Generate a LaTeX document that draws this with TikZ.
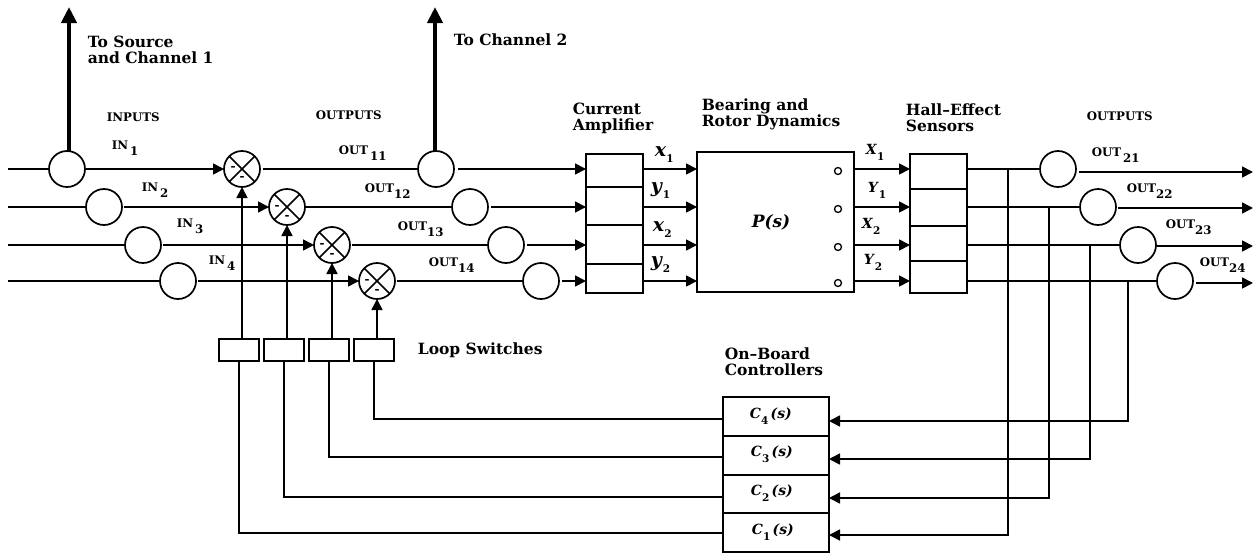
\documentclass[tikz,border=0pt]{standalone}
\usepackage{amsmath,amssymb}
\usepackage{fontspec}
\setmainfont{DejaVu Serif}
\usetikzlibrary{arrows.meta}
\newcommand{\subt}[1]{\raisebox{-6pt}{#1}}
\newcommand{\subm}[1]{\raisebox{-6pt}{\fontsize{10.5}{11}\selectfont\bfseries #1}}
\newcommand{\bi}[1]{\textbf{\textit{#1}}}

\begin{document}
\begin{tikzpicture}[x=1pt, y=-1pt, >={Triangle[length=11pt,width=11pt]}, line width=1.7pt,
  wire/.style={line width=1.7pt},
  fat/.style={line width=4pt, -{Triangle[length=16pt,width=15pt]}},
  tap/.style={circle, draw, minimum size=36pt, inner sep=0pt, outer sep=0pt},
  block/.style={rectangle, draw, inner sep=0pt, outer sep=0pt},
  switchbox/.style={block, minimum width=40pt, minimum height=22pt},
  pickoff/.style={circle, draw, minimum size=7pt, inner sep=0pt, line width=1.3pt},
  head/.style={align=left, anchor=north west, inner sep=0pt, font=\fontsize{15.5}{16}\selectfont\bfseries},
  tag/.style={anchor=west, inner sep=0pt, font=\fontsize{11.8}{12}\selectfont\bfseries},
  signal/.style={anchor=west, inner sep=0pt, font=\fontsize{14}{15}\selectfont},
  minus/.style={inner sep=0pt, font=\fontsize{12}{13}\selectfont\bfseries}]
\useasboundingbox (0,0) rectangle (1253,554);
% entrees
\coordinate (in1) at (8,169);
\coordinate (in2) at (8,207);
\coordinate (in3) at (8,245);
\coordinate (in4) at (8,281);
\node[tap] (a1) at (67,169) {};
\node[tap] (a2) at (104,207) {};
\node[tap] (a3) at (143,245) {};
\node[tap] (a4) at (178,281) {};
% sommateurs
\node[tap] (s1) at (242,169) {};
\node[tap] (s2) at (287,207) {};
\node[tap] (s3) at (332,245) {};
\node[tap] (s4) at (377,281) {};
\draw (s1.135) -- (s1.-45); \draw (s1.45) -- (s1.-135);
\draw (s2.135) -- (s2.-45); \draw (s2.45) -- (s2.-135);
\draw (s3.135) -- (s3.-45); \draw (s3.45) -- (s3.-135);
\draw (s4.135) -- (s4.-45); \draw (s4.45) -- (s4.-135);
\node[minus] (m1l) at (233,168) {-}; \node[minus] (m1b) at (242,178) {-};
\node[minus] (m2l) at (277,207) {-}; \node[minus] (m2b) at (287,217) {-};
\node[minus] (m3l) at (322,245) {-}; \node[minus] (m3b) at (332,255) {-};
\node[minus] (m4l) at (367,281) {-}; \node[minus] (m4b) at (377,291) {-};
% sorties vers l'amplificateur
\node[tap] (b1) at (436,169) {};
\node[tap] (b2) at (470,207) {};
\node[tap] (b3) at (506,245) {};
\node[tap] (b4) at (541,281) {};
% amplificateur
\node[block, minimum width=57pt, minimum height=139pt] (amp) at (614.5,223.5) {};
\draw (586,187) -- (643,187);
\draw (586,225) -- (643,225);
\draw (586,264) -- (643,264);
% rotor
\node[block, minimum width=157pt, minimum height=140pt] (plant) at (775.5,222) {};
\node[pickoff] (p1) at (838,171) {};
\node[pickoff] (p2) at (838,209) {};
\node[pickoff] (p3) at (838,247) {};
\node[pickoff] (p4) at (838,283) {};
\node[inner sep=0pt, font=\fontsize{17}{17}\selectfont] (ps) at (771,222) {\bi{P(s)}};
% capteurs
\node[block, minimum width=57pt, minimum height=139pt] (hall) at (938.5,223.5) {};
\draw (910,189) -- (967,189);
\draw (910,226) -- (967,226);
\draw (910,261) -- (967,261);
% sorties
\node[tap] (c1) at (1058,169) {};
\node[tap] (c2) at (1098,207) {};
\node[tap] (c3) at (1138,245) {};
\node[tap] (c4) at (1175,281) {};
\coordinate (e1) at (1253,172);
\coordinate (e2) at (1253,208);
\coordinate (e3) at (1253,246);
\coordinate (e4) at (1253,283);
% interrupteurs
\node[switchbox] (sw1) at (239,350) {};
\node[switchbox] (sw2) at (284,350) {};
\node[switchbox] (sw3) at (329,350) {};
\node[switchbox] (sw4) at (374,350) {};
% correcteurs
\node[block, minimum width=106pt, minimum height=155pt] (ctrl) at (776,474.5) {};
\draw (723,436) -- (829,436);
\draw (723,475) -- (829,475);
\draw (723,513) -- (829,513);
\node[signal] (t4) at (749,416) {\bi{C}\subm{4}\,\bi{(s)}};
\node[signal] (t3) at (750,454) {\bi{C}\subm{3}\,\bi{(s)}};
\node[signal] (t2) at (750,493) {\bi{C}\subm{2}\,\bi{(s)}};
\node[signal] (t1) at (751,532) {\bi{C}\subm{1}\,\bi{(s)}};
\coordinate (g4) at (723,419);
\coordinate (g3) at (723,457);
\coordinate (g2) at (723,497);
\coordinate (g1) at (723,533);
\coordinate (f4) at (829,421);
\coordinate (f3) at (829,459);
\coordinate (f2) at (829,498);
\coordinate (f1) at (829,535);
% fils de gauche
\draw[wire] (in1) -- (a1);
\draw[wire] (in2) -- (a2);
\draw[wire] (in3) -- (a3);
\draw[wire] (in4) -- (a4);
\draw[wire,->,shorten <=1pt] (a1) -- (s1);
\draw[wire,->,shorten <=2pt] (a2) -- (s2);
\draw[wire,->,shorten <=2pt] (a3) -- (s3);
\draw[wire,->,shorten <=2pt] (a4) -- (s4);
\draw[wire,shorten <=3pt] (s1) -- (b1);
\draw[wire,shorten <=1pt] (s2) -- (b2);
\draw[wire,shorten <=2pt] (s3) -- (b3);
\draw[wire,shorten <=2pt] (s4) -- (b4);
\draw[wire,->,shorten <=4pt] (b1) -- (b1 -| amp.west);
\draw[wire,->,shorten <=3pt] (b2) -- (b2 -| amp.west);
\draw[wire,->,shorten <=3pt] (b3) -- (b3 -| amp.west);
\draw[wire,->,shorten <=3pt] (b4) -- (b4 -| amp.west);
\draw[wire,->] (amp.east |- b1) -- (plant.west |- b1);
\draw[wire,->] (amp.east |- b2) -- (plant.west |- b2);
\draw[wire,->] (amp.east |- b3) -- (plant.west |- b3);
\draw[wire,->] (amp.east |- b4) -- (plant.west |- b4);
\draw[wire,->] (plant.east |- c1) -- (hall.west |- c1);
\draw[wire,->] (plant.east |- c2) -- (hall.west |- c2);
\draw[wire,->] (plant.east |- c3) -- (hall.west |- c3);
\draw[wire,->] (plant.east |- c4) -- (hall.west |- c4);
\draw[wire] (hall.east |- c1) -- (c1);
\draw[wire] (hall.east |- c2) -- (c2);
\draw[wire] (hall.east |- c3) -- (c3);
\draw[wire] (hall.east |- c4) -- (c4);
\draw[wire,->,shorten <=3pt] (c1.east |- e1) -- (e1);
\draw[wire,->,shorten <=2pt] (c2.east |- e2) -- (e2);
\draw[wire,->] (c3.east |- e3) -- (e3);
\draw[wire,->,shorten <=3pt] (c4.east |- e4) -- (e4);
% fils epais
\coordinate (up1) at (69,7);
\coordinate (up2) at (435,7);
\draw[fat] (a1.north -| up1) -- (up1);
\draw[fat] (b1.north -| up2) -- (up2);
% bouclage
\draw[wire,->] (s1.south |- sw1.north) -- (s1.south);
\draw[wire,->] (s2.south |- sw2.north) -- (s2.south);
\draw[wire,->] (s3.south |- sw3.north) -- (s3.south);
\draw[wire,->] (s4.south |- sw4.north) -- (s4.south);
\draw[wire] (sw1.south) |- (g1);
\draw[wire] (sw2.south) |- (g2);
\draw[wire] (sw3.south) |- (g3);
\draw[wire] (sw4.south) |- (g4);
\coordinate (j1) at (1008,169);
\coordinate (j2) at (1049,207);
\coordinate (j3) at (1090,245);
\coordinate (j4) at (1128,281);
\draw[wire,->] (j1) |- (f1);
\draw[wire,->] (j2) |- (f2);
\draw[wire,->] (j3) |- (f3);
\draw[wire,->] (j4) |- (f4);
% titres
\node[head] (tsrc) at (87,35) {To Source\\and Channel 1};
\node[head] (tch) at (453,33) {To Channel 2};
\node[head] (tamp) at (572,102) {Current\\Amplifier};
\node[head] (tplant) at (701,98) {Bearing and\\Rotor Dynamics};
\node[head] (thall) at (905,103) {Hall\textendash Effect\\Sensors};
\node[head] (tsw) at (417,342) {Loop Switches};
\node[head] (tctrl) at (724,347) {On\textendash Board\\Controllers};
\node[tag] (tin) at (106,117) {INPUTS};
\node[tag] (tout) at (315,115) {OUTPUTS};
\node[tag] (tout2) at (1086,116) {OUTPUTS};
% etiquettes
\node[tag] (l1) at (111,148) {IN\,\subt{1}};
\node[tag] (l2) at (141,190) {IN\,\subt{2}};
\node[tag] (l3) at (176,226) {IN\,\subt{3}};
\node[tag] (l4) at (208,263) {IN\,\subt{4}};
\node[tag] (o11) at (338,153) {OUT\,\subt{11}};
\node[tag] (o12) at (364,191) {OUT\subt{12}};
\node[tag] (o13) at (397,229) {OUT\subt{13}};
\node[tag] (o14) at (428,265) {OUT\subt{14}};
\node[tag] (o21) at (1091,155) {OUT\,\subt{21}};
\node[tag] (o22) at (1126,191) {OUT\subt{22}};
\node[tag] (o23) at (1165,227) {OUT\subt{23}};
\node[tag] (o24) at (1199,265) {OUT\subt{24}};
% signaux
\node[signal, font=\fontsize{19}{21}\selectfont] (x1) at (654,155) {\bi{x}\subm{1}};
\node[signal, font=\fontsize{19}{21}\selectfont] (y1) at (650,191) {\bi{y}\subm{1}};
\node[signal, font=\fontsize{19}{21}\selectfont] (x2) at (652,230) {\bi{x}\subm{2}};
\node[signal, font=\fontsize{19}{21}\selectfont] (y2) at (650,265) {\bi{y}\subm{2}};
\node[signal] (u1) at (865,152) {\bi{X}\subm{1}};
\node[signal] (v1) at (867,190) {\bi{Y}\subm{1}};
\node[signal] (u2) at (861,226) {\bi{X}\subm{2}};
\node[signal] (v2) at (863,262) {\bi{Y}\subm{2}};
\end{tikzpicture}
\end{document}
